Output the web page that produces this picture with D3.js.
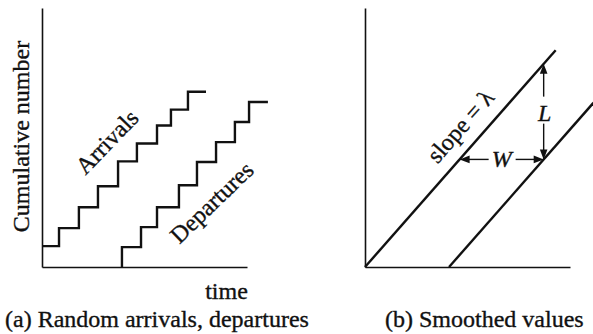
<!DOCTYPE html>
<html>
<head>
<meta charset="utf-8">
<script src="https://cdn.jsdelivr.net/npm/d3@7"></script>
<style>
  html, body { margin: 0; padding: 0; background: #fff; }
  svg { display: block; }
  text { font-family: "Liberation Serif", "Times New Roman", serif; fill: #111; stroke: #111; stroke-width: 0.35; }
</style>
</head>
<body>
<svg id="chart" width="593" height="334"></svg>
<script>
// Cumulative arrivals: step times and the count reached after each step
const arrivalStart = 0;
const arrivalTimes = [0.83, 1.80, 2.73, 3.71, 4.63, 5.61, 6.29, 7.12];
const arrivalLevels = [1.05, 1.95, 3.0, 4.05, 5.3, 6.2, 7.1, 7.9, 8.8];
const arrivalEnd = 8.0;

// Cumulative departures
const departureStart = 3.9;
const departureTimes = [4.83, 5.61, 6.68, 7.56, 8.49, 9.41, 10.1];
const departureLevels = [1.0, 2.0, 3.0, 4.1, 5.27, 6.27, 7.28, 8.28];
const departureEnd = 11.02;

// Smoothed curves: arrival rate (slope) and waiting time shift
const lambda = 1.17;
const waitW = 4.1;
const smoothEnd = [9.3, 11.15];   // end time of arrival / departure lines
const markLevel = 5.4;             // count level where W is marked

const captions = ["(a) Random arrivals, departures", "(b) Smoothed values"];

const svg = d3.select("#chart");
const ink = "#111";

const yScale = d3.scaleLinear().domain([0, 13]).range([267, 8]);
const xLeft = d3.scaleLinear().domain([0, 10]).range([42, 247]);
const xRight = d3.scaleLinear().domain([0, 10]).range([365, 570]);

function drawAxes(x) {
  const g = svg.append("g");
  g.append("g").attr("transform", `translate(${x(0)},0)`)
    .call(d3.axisLeft(yScale).tickValues([]).tickSizeOuter(0));
  g.append("g").attr("transform", `translate(0,${yScale(0)})`)
    .call(d3.axisBottom(x).tickValues([]).tickSizeOuter(0));
  g.selectAll(".domain").attr("stroke", ink).attr("stroke-width", 1.6);
}
drawAxes(xLeft);
drawAxes(xRight);

// Build step polyline points from start, step times, levels, end
function stepPoints(start, times, levels, end, fromZero) {
  const pts = [];
  if (fromZero) pts.push([start, 0]);
  pts.push([start, levels[0]]);
  times.forEach((t, i) => { pts.push([t, levels[i]]); pts.push([t, levels[i + 1]]); });
  pts.push([end, levels[levels.length - 1]]);
  return pts;
}

const line = x => d3.line().x(d => x(d[0])).y(d => yScale(d[1]));

svg.append("path")
  .attr("d", line(xLeft)(stepPoints(arrivalStart, arrivalTimes, arrivalLevels, arrivalEnd, false)))
  .attr("fill", "none").attr("stroke", ink).attr("stroke-width", 2.4).attr("stroke-linejoin", "miter");
svg.append("path")
  .attr("d", line(xLeft)(stepPoints(departureStart, departureTimes, departureLevels, departureEnd, true)))
  .attr("fill", "none").attr("stroke", ink).attr("stroke-width", 2.4).attr("stroke-linejoin", "miter");

// Series labels along the steps
svg.append("text").text("Arrivals")
  .attr("font-size", 24).attr("text-anchor", "middle")
  .attr("transform", `translate(${xLeft(3.45)},${yScale(6.0)}) rotate(-46)`);
svg.append("text").text("Departures")
  .attr("font-size", 24).attr("text-anchor", "middle")
  .attr("transform", `translate(${xLeft(8.55)},${yScale(2.95)}) rotate(-44)`);

// Axis titles
svg.append("text").text("Cumulative number")
  .attr("font-size", 24).attr("text-anchor", "middle")
  .attr("transform", `translate(29,${(yScale(0) + yScale(13)) / 2 - 1}) rotate(-90)`);
svg.append("text").text("time")
  .attr("font-size", 24).attr("text-anchor", "middle")
  .attr("x", (xLeft(0) + xLeft(10)) / 2 + 82).attr("y", 299);

// Smoothed arrival and departure lines
const arrLine = [[0, 0], [smoothEnd[0], smoothEnd[0] * lambda]];
const depLine = [[waitW, 0], [smoothEnd[1], (smoothEnd[1] - waitW) * lambda]];
[arrLine, depLine].forEach(pts => {
  svg.append("path").attr("d", line(xRight)(pts))
    .attr("fill", "none").attr("stroke", ink).attr("stroke-width", 2.4);
});

// Slope label parallel to the arrival line
const ang = -Math.atan((yScale(0) - yScale(lambda)) / (xRight(1) - xRight(0))) * 180 / Math.PI;
svg.append("text").text("slope = λ")
  .attr("font-size", 24).attr("text-anchor", "middle")
  .attr("transform", `translate(${xRight(4.95)},${yScale(6.8)}) rotate(${ang})`);

// Arrow helpers
function arrowHead(x, y, dir) {
  const len = 10, half = 3.8;
  let pts;
  if (dir === "up") pts = [[x, y], [x - half, y + len], [x + half, y + len]];
  if (dir === "down") pts = [[x, y], [x - half, y - len], [x + half, y - len]];
  if (dir === "left") pts = [[x, y], [x + len, y - half], [x + len, y + half]];
  if (dir === "right") pts = [[x, y], [x - len, y - half], [x - len, y + half]];
  svg.append("polygon").attr("points", pts.map(p => p.join(",")).join(" ")).attr("fill", ink);
}
function seg(x1, y1, x2, y2) {
  svg.append("line").attr("x1", x1).attr("y1", y1).attr("x2", x2).attr("y2", y2)
    .attr("stroke", ink).attr("stroke-width", 1.4);
}

// W: horizontal gap between the lines at markLevel
const wx1 = xRight(markLevel / lambda), wx2 = xRight(markLevel / lambda + waitW), wy = yScale(markLevel);
const wMid = (wx1 + wx2) / 2;
seg(wx1 + 4, wy, wMid - 13, wy);
seg(wMid + 14, wy, wx2 - 4, wy);
arrowHead(wx1, wy, "left");
arrowHead(wx2, wy, "right");
svg.append("text").text("W").attr("font-size", 24).attr("font-style", "italic")
  .attr("text-anchor", "middle").attr("x", wMid).attr("y", wy + 8);

// L: vertical gap between the lines at the same time
const lx = wx2, ly1 = yScale((markLevel / lambda + waitW) * lambda), ly2 = wy;
const lMid = (ly1 + ly2) / 2;
seg(lx, ly1 + 4, lx, lMid - 15);
seg(lx, lMid + 12, lx, ly2 - 4);
arrowHead(lx, ly1, "up");
arrowHead(lx, ly2, "down");
svg.append("text").text("L").attr("font-size", 24).attr("font-style", "italic")
  .attr("text-anchor", "middle").attr("x", lx + 1).attr("y", lMid + 9);

// Panel captions
svg.append("text").text(captions[0]).attr("font-size", 24).attr("x", 5).attr("y", 327);
svg.append("text").text(captions[1]).attr("font-size", 24).attr("x", 385).attr("y", 327);
</script>
</body>
</html>
